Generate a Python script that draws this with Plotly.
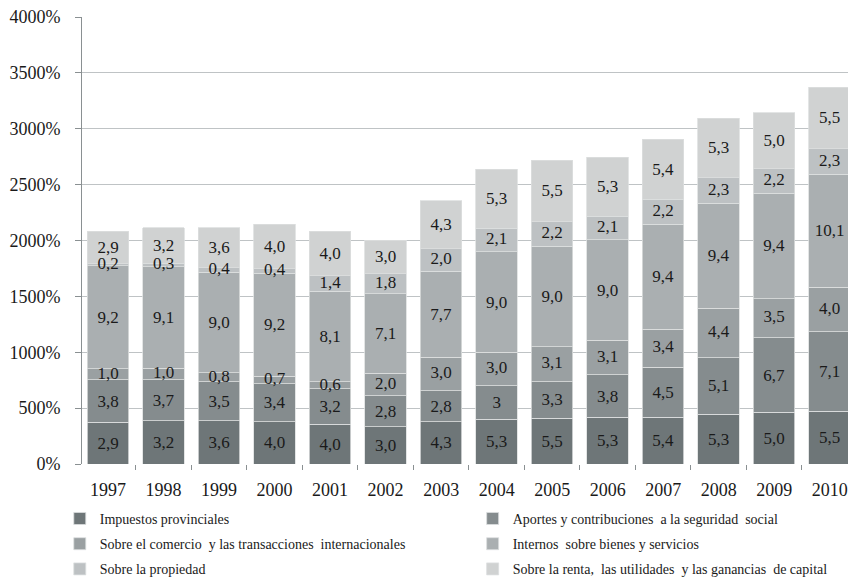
import numpy as np
import plotly.graph_objects as go

years = ["1997", "1998", "1999", "2000", "2001", "2002", "2003",
         "2004", "2005", "2006", "2007", "2008", "2009", "2010"]

series_names = [
    "Impuestos provinciales",
    "Aportes y contribuciones  a la seguridad  social",
    "Sobre el comercio  y las transacciones  internacionales",
    "Internos  sobre bienes y servicios",
    "Sobre la propiedad",
    "Sobre la renta,  las utilidades  y las ganancias  de capital",
]

# bar heights (in %)
impuestos_prov = [372, 386, 386, 377, 354, 333, 377, 399, 408, 417, 417, 443, 461, 473]
aportes = [380, 370, 350, 340, 320, 280, 280, 300, 330, 380, 450, 510, 670, 710]
comercio = [100, 100, 80, 70, 60, 200, 300, 300, 310, 310, 340, 440, 350, 400]
internos = [920, 910, 900, 920, 810, 710, 770, 900, 900, 900, 940, 940, 940, 1010]
propiedad = [20, 30, 40, 40, 140, 180, 200, 210, 220, 210, 220, 230, 220, 230]
renta = [290, 320, 360, 400, 400, 300, 430, 530, 550, 530, 540, 530, 500, 550]

# data labels exactly as printed on the chart
lbl_impuestos = ["2,9", "3,2", "3,6", "4,0", "4,0", "3,0", "4,3", "5,3", "5,5", "5,3", "5,4", "5,3", "5,0", "5,5"]
lbl_aportes = ["3,8", "3,7", "3,5", "3,4", "3,2", "2,8", "2,8", "3", "3,3", "3,8", "4,5", "5,1", "6,7", "7,1"]
lbl_comercio = ["1,0", "1,0", "0,8", "0,7", "0,6", "2,0", "3,0", "3,0", "3,1", "3,1", "3,4", "4,4", "3,5", "4,0"]
lbl_internos = ["9,2", "9,1", "9,0", "9,2", "8,1", "7,1", "7,7", "9,0", "9,0", "9,0", "9,4", "9,4", "9,4", "10,1"]
lbl_propiedad = ["0,2", "0,3", "0,4", "0,4", "1,4", "1,8", "2,0", "2,1", "2,2", "2,1", "2,2", "2,3", "2,2", "2,3"]
lbl_renta = ["2,9", "3,2", "3,6", "4,0", "4,0", "3,0", "4,3", "5,3", "5,5", "5,3", "5,4", "5,3", "5,0", "5,5"]

y_ticks = [0, 500, 1000, 1500, 2000, 2500, 3000, 3500, 4000]
y_tick_text = ["0%", "500%", "1000%", "1500%", "2000%", "2500%", "3000%", "3500%", "4000%"]

colors = ["#6e7678", "#858c8e", "#9aa0a2", "#aaafb1", "#bdc1c3", "#d0d2d2"]
legend_ids = ["legend", "legend2", "legend", "legend2", "legend", "legend2"]

values = [impuestos_prov, aportes, comercio, internos, propiedad, renta]
labels = [lbl_impuestos, lbl_aportes, lbl_comercio, lbl_internos, lbl_propiedad, lbl_renta]
# thin segments whose labels spill over neighbours are labelled on top of all bars
overlay_label = [False, False, True, False, True, False]

FONT = "Liberation Serif"
TEXTFONT = dict(family=FONT, size=17, color="#1a1a1a")

fig = go.Figure()
for i, (name, vals, lbls, col, lg) in enumerate(zip(series_names, values, labels, colors, legend_ids)):
    fig.add_trace(go.Bar(
        x=years, y=vals, name=name,
        text=None if overlay_label[i] else lbls,
        legend=lg, legendgroup="g%d" % i,
        textposition="inside", insidetextanchor="middle",
        textangle=0, textfont=TEXTFONT,
        marker=dict(color=col, line=dict(color="#dcdedf", width=0.8)),
        hoverinfo="skip",
    ))

stack = np.cumsum(np.array(values, dtype=float), axis=0)
for i, lbls in enumerate(labels):
    if not overlay_label[i]:
        continue
    mids = stack[i] - np.array(values[i], dtype=float) / 2.0
    fig.add_trace(go.Scatter(
        x=years, y=mids, mode="text", text=lbls,
        textposition="middle center", textfont=TEXTFONT,
        showlegend=False, hoverinfo="skip",
    ))

legend_common = dict(
    orientation="v", yanchor="top", xanchor="left",
    font=dict(family=FONT, size=14, color="#1a1a1a"),
    traceorder="grouped", itemclick=False, tracegroupgap=4,
    bgcolor="rgba(0,0,0,0)",
)

fig.update_layout(
    width=848, height=580,
    barmode="stack", bargap=0.25,
    plot_bgcolor="white", paper_bgcolor="white",
    margin=dict(l=82, r=0, t=17, b=116, autoexpand=False),
    font=dict(family=FONT, size=17, color="#1a1a1a"),
    uniformtext=dict(minsize=17, mode="show"),
    showlegend=True,
    legend=dict(x=-0.029, y=-0.087, **legend_common),
    legend2=dict(x=0.510, y=-0.087, **legend_common),
)
fig.update_xaxes(
    type="category", range=[-0.47, 13.33],
    showline=False, showgrid=False,
    ticks="outside", tickson="boundaries", ticklen=5, tickcolor="#8a9092",
    ticklabelstandoff=13,
    tickfont=dict(family=FONT, size=18, color="#1a1a1a"),
)
fig.update_yaxes(
    range=[0, 4000], tickmode="array", tickvals=y_ticks, ticktext=y_tick_text,
    showgrid=True, gridcolor="#bfc3c5", gridwidth=1,
    showline=True, linecolor="#8a9092", linewidth=1,
    ticks="outside", ticklen=6, tickcolor="#8a9092",
    ticklabelstandoff=11,
    zeroline=False,
    tickfont=dict(family=FONT, size=18, color="#1a1a1a"),
)

# remove the default page margin so the figure sits at the window's top-left corner
fig.write_html("out.html", config={"displayModeBar": False},
               post_script="document.body.style.margin='0';")
